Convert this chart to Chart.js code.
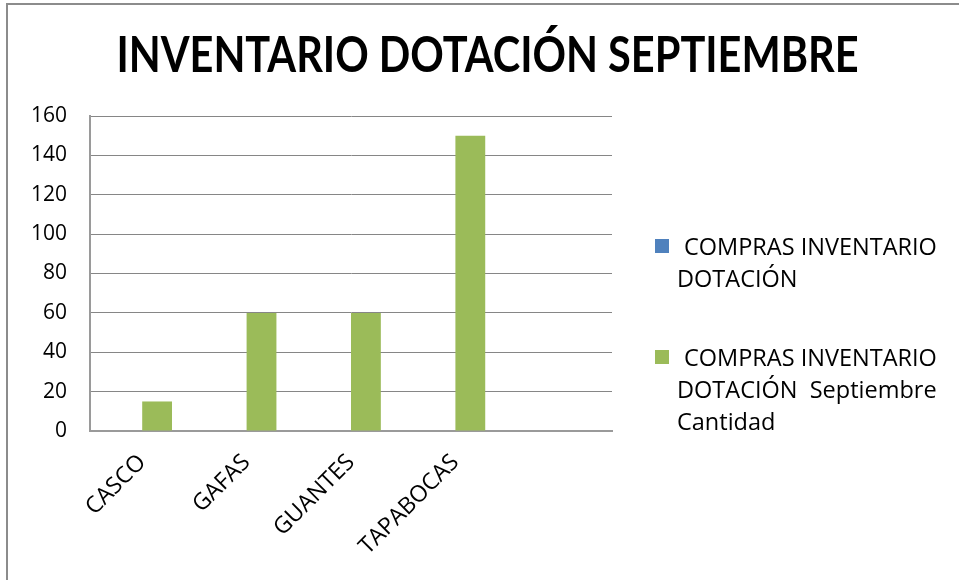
<!DOCTYPE html>
<html>
<head>
<meta charset="utf-8">
<script src="https://cdn.jsdelivr.net/npm/chart.js@4"></script>
<style>
body{margin:0;background:#fff;}
#wrap{position:relative;width:959px;height:580px;overflow:hidden;}
#frame{position:absolute;left:6px;top:3px;width:1000px;height:700px;border-left:2px solid #8c8c8c;border-top:2px solid #8c8c8c;}
#legend{position:absolute;left:655px;top:230px;font-family:'Open Sans',sans-serif;font-size:23.5px;color:#000;line-height:32px;}
.item{display:flex;margin-bottom:47px;}
.box{width:14px;height:14px;margin-top:9px;margin-right:8px;flex:none;}
.txt{width:275px;text-indent:7px;white-space:pre-wrap;}
</style>
</head>
<body>
<div id="wrap">
<div id="frame"></div>
<canvas id="chart"></canvas>
<div id="legend"></div>
</div>
<script>
const title = "INVENTARIO DOTACIÓN SEPTIEMBRE";
const categories = ["CASCO","GAFAS","GUANTES","TAPABOCAS",""];
const comprasLabel = "COMPRAS INVENTARIO DOTACIÓN";
const comprasValues = [null,null,null,null,null];
const septLabel = "COMPRAS INVENTARIO DOTACIÓN  Septiembre Cantidad";
const septValues = [15,60,60,150,null];
const yTicks = [0,20,40,60,80,100,120,140,160];

const gridColor = "#868686";
const titleScaleX = 0.83;

// original title font is narrow: squeeze the title block sideways around its centre
const narrowTitle = {
id:"narrowTitle",
beforeDraw(c){
const tb = c.titleBlock;
if(!tb || tb._narrow) return;
const draw = tb.draw.bind(tb);
tb.draw = function(area){
const cx = (tb.left+tb.right)/2;
c.ctx.save();
c.ctx.translate(cx,0);
c.ctx.scale(titleScaleX,1);
c.ctx.translate(-cx,0);
draw(area);
c.ctx.restore();
};
tb._narrow = true;
}
};

const ctx = document.getElementById("chart").getContext("2d");

const chart = new Chart(ctx,{
type:"bar",
data:{
labels:categories,
datasets:[
{
label:comprasLabel,
data:comprasValues,
backgroundColor:"#4F81BD"
},
{
label:septLabel,
data:septValues,
backgroundColor:"#9BBB59"
}
]
},
options:{
responsive:true,
maintainAspectRatio:false,
animation:false,
layout:{padding:{left:16,right:0,top:0,bottom:0}},
datasets:{bar:{categoryPercentage:2/3.5,barPercentage:1}},
plugins:{
legend:{display:false},
tooltip:{enabled:false},
title:{
display:true,
text:title,
color:"#000",
font:{family:"Lato, sans-serif",size:50,weight:"bold"},
padding:{top:26,bottom:30}
}
},
scales:{
x:{
grid:{display:false,drawTicks:false},
border:{color:"#9a9a9a",width:2},
ticks:{font:{family:"'Open Sans', sans-serif",size:23},color:"#000",maxRotation:45,minRotation:45,padding:18,autoSkip:false},
afterFit:s=>{s.height=149;}
},
y:{
min:0,
max:160,
grid:{color:gridColor,drawTicks:false},
border:{color:"#9a9a9a",width:2},
ticks:{font:{family:"'Open Sans', sans-serif",size:21},color:"#000",padding:23,stepSize:20,
callback:v=>yTicks.includes(v)?v:""},
afterFit:s=>{s.width=74;}
},
side:{
type:"linear",
position:"right",
grid:{display:false},
border:{display:false},
ticks:{display:false},
afterFit:s=>{s.width=347;}
}
}
},
plugins:[narrowTitle]
});

// ---------- LEGEND ----------
const legend = document.getElementById("legend");
chart.data.datasets.forEach(d=>{
const item = document.createElement("div");
item.className="item";
const box = document.createElement("div");
box.className="box";
box.style.background=d.backgroundColor;
const txt = document.createElement("div");
txt.className="txt";
txt.textContent=d.label;
item.appendChild(box);
item.appendChild(txt);
legend.appendChild(item);
});
</script>
</body>
</html>
